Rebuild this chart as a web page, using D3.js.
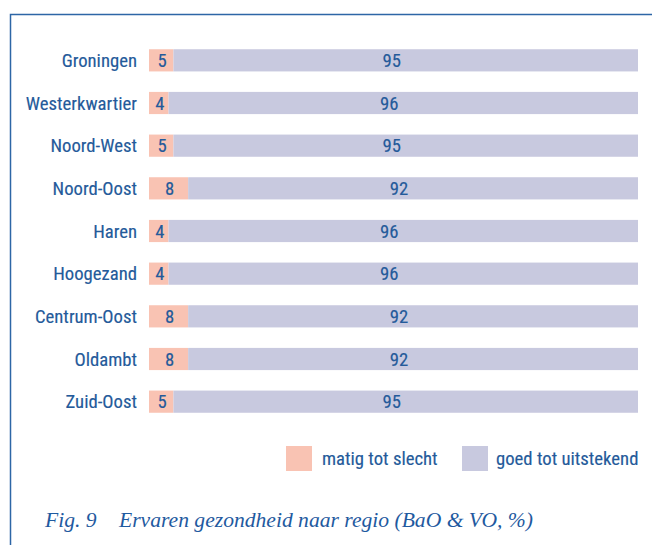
<!DOCTYPE html>
<html>
<head>
<meta charset="utf-8">
<script src="https://cdn.jsdelivr.net/npm/d3@7"></script>
<style>
  body { margin: 0; background: #fff; }
  text { font-family: "Liberation Sans Narrow", "Roboto Condensed", "Open Sans", sans-serif; fill: #245a9a; }
  .lbl { font-size: 18.7px; stroke: #245a9a; stroke-width: 0.15px; }
</style>
</head>
<body>
<svg id="chart" width="652" height="545"></svg>
<script>
// data
var regions = ["Groningen", "Westerkwartier", "Noord-West", "Noord-Oost", "Haren", "Hoogezand", "Centrum-Oost", "Oldambt", "Zuid-Oost"];
var matig = [5, 4, 5, 8, 4, 4, 8, 8, 5];
var goed = [95, 96, 95, 92, 96, 96, 92, 92, 95];
var seriesNames = ["matig tot slecht", "goed tot uitstekend"];
var colors = ["#f9c3b3", "#c8c9df"];

var svg = d3.select("#chart");

// frame (top + left line)
svg.append("path")
  .attr("d", "M10.5,545 V14.5 H652")
  .attr("fill", "none")
  .attr("stroke", "#2d66a6")
  .attr("stroke-width", 1.5);

var x = d3.scaleLinear().domain([0, 100]).range([149, 638]);
var y = d3.scaleBand().domain(regions).range([39, 423]).paddingInner(0.48).paddingOuter(0.24);

var rows = svg.append("g").selectAll("g")
  .data(regions)
  .enter().append("g")
  .attr("transform", function(d) { return "translate(0," + y(d) + ")"; });

rows.append("rect")
  .attr("x", x(0))
  .attr("width", function(d, i) { return x(matig[i]) - x(0); })
  .attr("height", y.bandwidth())
  .attr("fill", colors[0]);

rows.append("rect")
  .attr("x", function(d, i) { return x(matig[i]); })
  .attr("width", function(d, i) { return x(matig[i] + goed[i]) - x(matig[i]); })
  .attr("height", y.bandwidth())
  .attr("fill", colors[1]);

// category labels
rows.append("text")
  .attr("class", "lbl")
  .attr("x", 137)
  .attr("y", y.bandwidth() / 2)
  .attr("dy", "0.36em")
  .attr("text-anchor", "end")
  .text(function(d) { return d; });

// value labels
rows.append("text")
  .attr("class", "lbl")
  .attr("x", function(d, i) { return (x(0) + x(matig[i])) / 2 + 1; })
  .attr("y", y.bandwidth() / 2)
  .attr("dy", "0.36em")
  .attr("text-anchor", "middle")
  .text(function(d, i) { return matig[i]; });

rows.append("text")
  .attr("class", "lbl")
  .attr("x", function(d, i) { return (x(matig[i]) + x(100)) / 2 - 14; })
  .attr("y", y.bandwidth() / 2)
  .attr("dy", "0.36em")
  .attr("text-anchor", "middle")
  .text(function(d, i) { return goed[i]; });

// legend
var legendX = [286, 462];
var legend = svg.append("g").selectAll("g")
  .data(seriesNames)
  .enter().append("g")
  .attr("transform", function(d, i) { return "translate(" + legendX[i] + ",446)"; });

legend.append("rect")
  .attr("width", 26)
  .attr("height", 25)
  .attr("fill", function(d, i) { return colors[i]; });

legend.append("text")
  .attr("class", "lbl")
  .attr("x", function(d, i) { return i == 0 ? 36 : 34; })
  .attr("y", 12.5)
  .attr("dy", "0.36em")
  .text(function(d) { return d; });

// caption
var cap = svg.append("text")
  .attr("y", 527)
  .style("font-family", "'Liberation Serif', 'DejaVu Serif', serif")
  .style("font-style", "italic")
  .style("font-size", "21.6px")
  .style("fill", "#1f5aa0");
cap.append("tspan").attr("x", 45).text("Fig. 9");
cap.append("tspan").attr("x", 119).text("Ervaren gezondheid naar regio (BaO & VO, %)");
</script>
</body>
</html>
